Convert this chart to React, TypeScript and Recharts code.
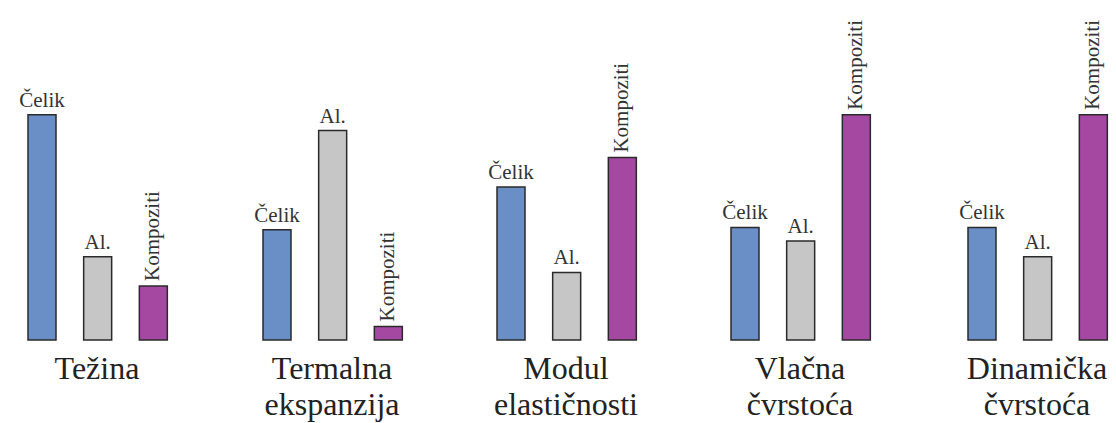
import { Bar, BarChart, Cell, LabelList, XAxis, YAxis } from 'recharts';

// relative values, tallest bar = 100
const materials = ['Čelik', 'Al.', 'Kompoziti'];
const tezina = [100, 37, 24];
const termalnaEkspanzija = [49, 93, 6];
const modulElasticnosti = [68, 30, 81];
const vlacnaCvrstoca = [50, 44, 100];
const dinamickaCvrstoca = [50, 37, 100];

const panelTitles = [
  ['Težina'],
  ['Termalna', 'ekspanzija'],
  ['Modul', 'elastičnosti'],
  ['Vlačna', 'čvrstoća'],
  ['Dinamička', 'čvrstoća'],
];
const panelValues = [tezina, termalnaEkspanzija, modulElasticnosti, vlacnaCvrstoca, dinamickaCvrstoca];

const colors = ['#6a8ec6', '#c6c6c6', '#a448a2'];
const panelLeft = [12, 247, 481, 715, 952];
const FONT = '"Liberation Serif", "Times New Roman", Tinos, serif';

function MaterialLabel(props: any) {
  const { x, y, width, value } = props;
  const cx = x + width / 2;
  if (value === 'Kompoziti') {
    const lx = cx + 6;
    const ly = y - 5;
    return (
      <text
        className="mat-label"
        x={lx}
        y={ly}
        transform={`rotate(-90 ${lx} ${ly})`}
        textAnchor="start"
        fontSize={21}
        fill="#333"
      >
        {value}
      </text>
    );
  }
  return (
    <text className="mat-label" x={cx} y={y - 8} textAnchor="middle" fontSize={21} fill="#333">
      {value}
    </text>
  );
}

function Panel({ values, title, left }: { values: number[]; title: string[]; left: number }) {
  const data = materials.map((name, i) => ({ name, value: values[i] }));
  return (
    <>
      <div style={{ position: 'absolute', left, top: 0 }}>
        <BarChart width={170} height={342} data={data} margin={{ top: 0, right: 0, bottom: 2, left: 0 }}>
          <XAxis
            dataKey="name"
            tick={false}
            tickLine={false}
            height={0}
            padding={{ left: 2, right: 1 }}
            axisLine={{ stroke: '#2b2b2b', strokeWidth: 2.5 }}
          />
          <YAxis hide domain={[0, 151]} />
          <Bar dataKey="value" barSize={28} stroke="#2a2a2a" strokeWidth={1.5} isAnimationActive={false}>
            {data.map((d, i) => (
              <Cell key={d.name} fill={colors[i]} />
            ))}
            <LabelList dataKey="name" content={MaterialLabel} />
          </Bar>
        </BarChart>
      </div>
      <div
        className="panel-title"
        style={{
          position: 'absolute',
          left: left - 20,
          width: 210,
          top: 350,
          textAlign: 'center',
          fontSize: 32,
          lineHeight: '36px',
          color: '#222',
        }}
      >
        {title.map((line) => (
          <div key={line}>{line}</div>
        ))}
      </div>
    </>
  );
}

export default function App() {
  return (
    <div
      id="materials-chart"
      style={{
        position: 'absolute',
        left: 0,
        top: 0,
        width: 1116,
        height: 423,
        overflow: 'hidden',
        background: '#fff',
      }}
    >
      <style>{`#root #materials-chart, #root #materials-chart * { font-family: ${FONT} !important; }`}</style>
      {panelValues.map((values, i) => (
        <Panel key={i} values={values} title={panelTitles[i]} left={panelLeft[i]} />
      ))}
    </div>
  );
}
